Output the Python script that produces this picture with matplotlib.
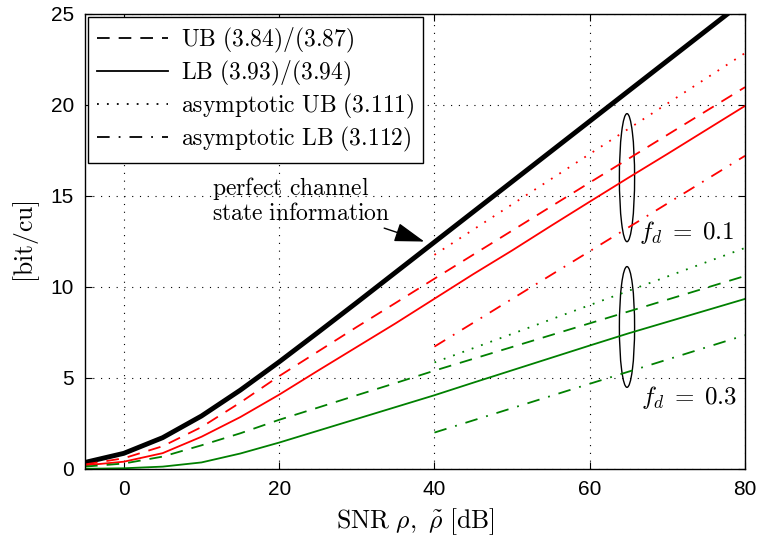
import matplotlib
matplotlib.use("Agg")
import matplotlib.pyplot as plt
from matplotlib.patches import Ellipse

plt.rcParams['mathtext.fontset'] = 'cm'
plt.rcParams['font.family'] = ['Liberation Sans', 'DejaVu Sans']

# SNR grid for exact bounds
snr = [-5, 0, 5, 10, 15, 20, 25, 30, 35, 40, 45, 50, 55, 60, 65, 70, 75, 80]
# perfect CSI
perfect = [0.36, 0.86, 1.72, 2.91, 4.33, 5.88, 7.50, 9.14, 10.80, 12.46, 14.12,
           15.78, 17.44, 19.10, 20.76, 22.42, 24.08, 25.74]
# f_d = 0.1
ub_01 = [0.25, 0.59, 1.25, 2.3, 3.65, 5.1, 6.45, 7.8, 9.12, 10.45, 11.77, 13.09,
         14.41, 15.73, 17.04, 18.35, 19.66, 20.97]
lb_01 = [0.2, 0.4, 0.87, 1.77, 2.85, 4.08, 5.4, 6.7, 8.0, 9.35, 10.7, 12.0,
         13.35, 14.68, 16.0, 17.3, 18.62, 19.94]
# f_d = 0.3
ub_03 = [0.13, 0.3, 0.68, 1.3, 1.96, 2.7, 3.37, 4.05, 4.72, 5.4, 6.05, 6.7,
         7.35, 8.0, 8.65, 9.3, 9.95, 10.6]
lb_03 = [0.01, 0.04, 0.13, 0.36, 0.85, 1.45, 2.1, 2.75, 3.4, 4.05, 4.74, 5.42,
         6.1, 6.78, 7.45, 8.08, 8.71, 9.34]

# asymptotic bounds
snr_asy = [40, 50, 60, 70, 80]
aub_01 = [11.76, 14.53, 17.30, 20.07, 22.84]
alb_01 = [6.72, 9.34, 11.96, 14.58, 17.2]
aub_03 = [5.85, 7.42, 9.0, 10.57, 12.14]
alb_03 = [2.0, 3.34, 4.68, 6.01, 7.35]

xticks = [0, 20, 40, 60, 80]
yticks = [0, 5, 10, 15, 20, 25]

fig = plt.figure(figsize=(7.61, 5.40), dpi=100)
ax = fig.add_axes([0.1117, 0.1315, 0.8673, 0.843])

red = '#ff0000'
green = '#008000'
dash = (0, (7, 5))
dot = (0, (1, 4.5))
dashdot = (0, (7, 5, 1, 5))
ax.plot(snr, perfect, color='black', lw=3.5, solid_capstyle='butt')
ax.plot(snr, ub_01, color=red, lw=1.3, ls=dash)
ax.plot(snr, lb_01, color=red, lw=1.3, ls='-')
ax.plot(snr_asy, aub_01, color=red, lw=1.3, ls=dot)
ax.plot(snr_asy, alb_01, color=red, lw=1.3, ls=dashdot)
ax.plot(snr, ub_03, color=green, lw=1.3, ls=dash)
ax.plot(snr, lb_03, color=green, lw=1.3, ls='-')
ax.plot(snr_asy, aub_03, color=green, lw=1.3, ls=dot)
ax.plot(snr_asy, alb_03, color=green, lw=1.3, ls=dashdot)

# legend proxies (black)
h1, = ax.plot([], [], color='black', lw=1.3, ls=dash)
h2, = ax.plot([], [], color='black', lw=1.3, ls='-')
h3, = ax.plot([], [], color='black', lw=1.3, ls=dot)
h4, = ax.plot([], [], color='black', lw=1.3, ls=dashdot)
leg = ax.legend([h1, h2, h3, h4],
                [r'$\mathrm{UB\ (3.84)/(3.87)}$', r'$\mathrm{LB\ (3.93)/(3.94)}$',
                 r'$\mathrm{asymptotic\ UB\ (3.111)}$', r'$\mathrm{asymptotic\ LB\ (3.112)}$'],
                loc='upper left', fontsize=17, frameon=True, fancybox=False,
                edgecolor='black', framealpha=1, handlelength=3.0,
                borderaxespad=0.12, labelspacing=0.17, handletextpad=0.55,
                borderpad=0.38)
leg.get_frame().set_linewidth(1.0)

ax.add_patch(Ellipse((64.8, 16.0), 1.96, 7.03, fill=False, edgecolor='black', lw=1.0))
ax.add_patch(Ellipse((64.8, 7.8), 1.96, 6.63, fill=False, edgecolor='black', lw=1.0))
ax.text(66.4, 13.0, r'$f_d\;=\;0.1$', fontsize=18, va='center', ha='left')
ax.text(66.6, 3.95, r'$f_d\;=\;0.3$', fontsize=18, va='center', ha='left')

ax.annotate(r'$\mathrm{perfect\ channel}$' + '\n' + r'$\mathrm{state\ information}$',
            xy=(38.7, 12.49), xytext=(11.4, 14.75), fontsize=17,
            ha='left', va='center', linespacing=1.05,
            arrowprops=dict(arrowstyle='-|>,head_length=1.1,head_width=0.35',
                            color='black', lw=1.0, shrinkA=0, shrinkB=0))

ax.set_xlim(-5, 80)
ax.set_ylim(0, 25)
ax.set_xticks(xticks)
ax.set_yticks(yticks)
ax.tick_params(direction='in', top=True, right=True, labelsize=15, length=5, pad=8)
ax.grid(True, color='black', ls=(0, (1, 6)), lw=0.8)
for s in ax.spines.values():
    s.set_linewidth(1.0)

ax.set_xlabel(r'$\mathrm{SNR}\ \rho,\ \tilde{\rho}\ \mathrm{[dB]}$', fontsize=18.5, labelpad=5)
ax.set_ylabel(r'$\mathrm{[bit/cu]}$', fontsize=18.5, labelpad=6)

fig.savefig('out.png', dpi=100)
